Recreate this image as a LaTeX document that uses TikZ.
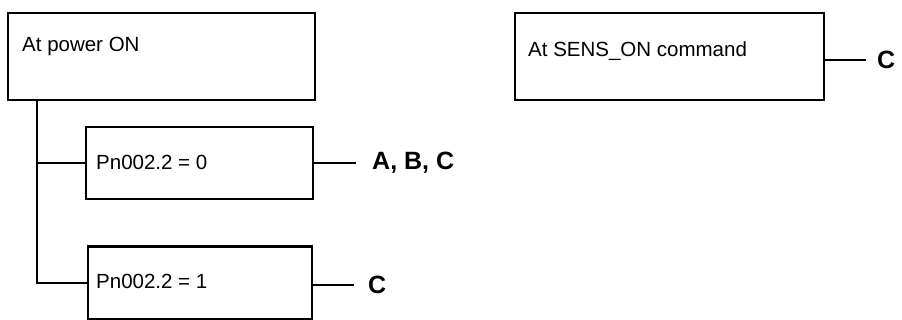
\documentclass[tikz,border=0pt]{standalone}
\usepackage{fontspec}
\setmainfont{Liberation Sans}
\begin{document}
\begin{tikzpicture}[x=1pt,y=-1pt,
  box/.style={draw,line width=2.4pt,inner sep=0pt,rectangle},
  btxt/.style={inner sep=0pt,anchor=base west,font=\fontsize{20.5}{24}\selectfont},
  res/.style={inner sep=0pt,anchor=west,font=\fontsize{25}{30}\selectfont\bfseries},
  conn/.style={line width=2.4pt}]
\useasboundingbox (0,0) rectangle (902,320);
% boxes
\node[box,minimum width=307pt,minimum height=87pt] (b1) at (161.5,56.5) {};
\node[box,minimum width=227pt,minimum height=72pt] (b2) at (199.5,163) {};
\node[box,minimum width=224pt,minimum height=73pt] (b3) at (200,283) {};
\node[box,minimum width=309pt,minimum height=87pt] (b4) at (669.5,56.5) {};
% box texts
\node[btxt] (t1) at (22,52) {At power ON};
\node[btxt] (t2) at (96,170) {Pn002.2 = 0};
\node[btxt] (t3) at (96,289) {Pn002.2 = 1};
\node[btxt] (t4) at (528,57) {At SENS\_ON command};
% result labels
\node[res] (r2) at (372,163) {A, B, C};
\node[res] (r3) at (368,285) {C};
\node[res] (r4) at (877,60) {C};
% trunk
\coordinate (tr) at (37,100);
\draw[conn] (tr) |- (b2.west);
\draw[conn] (tr) |- (b3.west);
% result connectors
\draw[conn,shorten >=16pt] (b2.east) -- (r2.west);
\draw[conn,shorten >=14pt] (b3.east |- r3.west) -- (r3.west);
\draw[conn,shorten >=11pt] (b4.east |- r4.west) -- (r4.west);
\end{tikzpicture}
\end{document}
